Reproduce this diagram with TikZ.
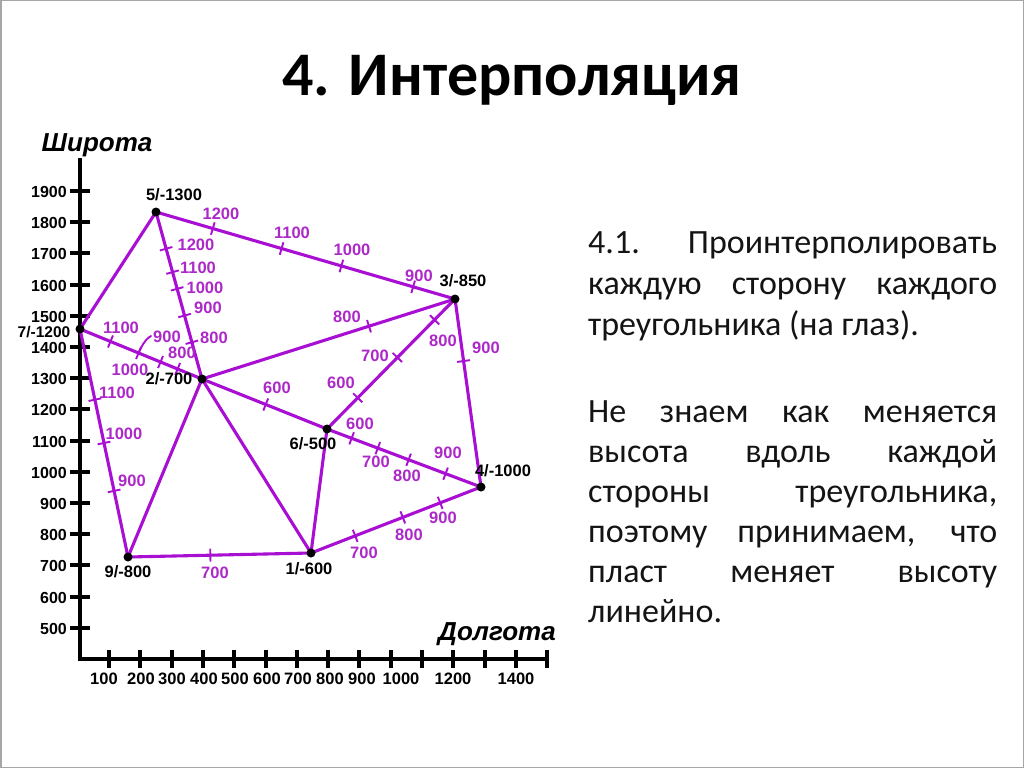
\documentclass[tikz,border=0pt]{standalone}
\usepackage{fontspec}
\setmainfont{Carlito}
\newfontfamily\arialf{Liberation Sans}
\definecolor{mag}{RGB}{168,15,210}
\definecolor{magt}{RGB}{172,40,200}
\definecolor{bodyc}{RGB}{20,20,20}
\begin{document}
\begin{tikzpicture}[x=1pt,y=-1pt,
  edge/.style={draw=mag, line width=3.1pt, line cap=round},
  tk/.style={sloped, draw=mag, line width=1.9pt, minimum height=13pt, minimum width=0pt, inner sep=0pt, outer sep=0pt, shape=rectangle},
  lbl/.style={text=magt, font=\arialf\bfseries\fontsize{16.5}{16.5}\selectfont, inner sep=0pt},
  vlbl/.style={text=black, font=\arialf\bfseries\fontsize{16.5}{16.5}\selectfont, inner sep=0pt},
  ylbl/.style={text=black, font=\arialf\bfseries\fontsize{16}{16}\selectfont, inner sep=0pt, anchor=east},
  xlbl/.style={text=black, font=\arialf\bfseries\fontsize{16.5}{16.5}\selectfont, inner sep=0pt},
  axl/.style={text=black, font=\arialf\bfseries\itshape\fontsize{26}{26}\selectfont, inner sep=0pt, anchor=base},
  axis/.style={draw=black, line width=4.5pt},
  axtick/.style={draw=black, line width=4pt},
  dot/.style={circle, fill=black, inner sep=0pt, minimum size=9pt},
  body/.style={text=bodyc, font=\fontsize{34}{41}\selectfont, inner sep=0pt, anchor=base west}]
\useasboundingbox (0,0) rectangle (1024,768);
\draw[gray!70, line width=1.5pt] (0.75,0.75) rectangle (1023.25,767.25);

% title
\node[font=\bfseries\fontsize{62}{62}\selectfont, anchor=base, inner sep=0pt] (title) at (512,95) {4. Интерполяция};

% body text
\node[body] (b1) at (588,253) {\makebox[409pt][s]{4.1. Проинтерполировать}};
\node[body] (b2) at (588,294) {\makebox[409pt][s]{каждую сторону каждого}};
\node[body] (b3) at (588,335) {треугольника (на глаз).};
\node[body] (b4) at (588,422) {\makebox[409pt][s]{Не знаем как меняется}};
\node[body] (b5) at (588,462) {\makebox[409pt][s]{высота вдоль каждой}};
\node[body] (b6) at (588,502) {\makebox[409pt][s]{стороны треугольника,}};
\node[body] (b7) at (588,542) {\makebox[409pt][s]{поэтому принимаем, что}};
\node[body] (b8) at (588,582) {\makebox[409pt][s]{пласт меняет высоту}};
\node[body] (b9) at (588,622) {линейно.};

% axes
\draw[axis] (80,158) -- (80,659) -- (548,659);
\foreach \v [count=\i from 0] in {1900,1800,1700,1600,1500,1400,1300,1200,1100,1000,900,800,700,600,500}{
  \draw[axtick] (70,191+\i*31.2) -- (90,191+\i*31.2);
  \node[ylbl] (yl\i) at (67,192+\i*31.2) {\v};
}
\foreach \k in {0,...,14}{
  \draw[axtick] (109+\k*31.3,650) -- (109+\k*31.3,668);
}
\foreach \v/\xx [count=\i] in {100/104,200/141,300/172,400/204,500/235,600/267,700/298,800/330,900/362,1000/401,1200/453,1400/516}{
  \node[xlbl] (xl\i) at (\xx,679) {\v};
}
\node[axl] (shir) at (97,151) {Широта};
\node[axl] (dolg) at (497,640) {Долгота};

% vertices
\coordinate (p5) at (156,212);
\coordinate (p3) at (455,299);
\coordinate (p7) at (80,329);
\coordinate (p2) at (202,379);
\coordinate (p6) at (327,429);
\coordinate (p4) at (481,487);
\coordinate (p9) at (128,557);
\coordinate (p1) at (311,553);

% edges with ticks
\draw[edge] (p5) -- (p3) node[tk,pos=.19](t53a){} node[tk,pos=.42](t53b){} node[tk,pos=.62](t53c){} node[tk,pos=.86](t53d){};
\draw[edge] (p5) -- (p7);
\draw[edge] (p5) -- (p2) node[tk,pos=.22](t52a){} node[tk,pos=.36](t52b){} node[tk,pos=.46](t52c){} node[tk,pos=.62](t52d){} node[tk,pos=.78](t52e){};
\draw[edge] (p7) -- (p2) node[tk,pos=.25](t72a){} node[tk,pos=.48](t72b){} node[tk,pos=.66](t72c){} node[tk,pos=.80](t72d){};
\draw[edge] (p7) -- (p9) node[tk,pos=.31](t79a){} node[tk,pos=.50](t79b){} node[tk,pos=.71](t79c){};
\draw[edge] (p2) -- (p3) node[tk,pos=.66](t23a){};
\draw[edge] (p2) -- (p6) node[tk,pos=.51](t26a){};
\draw[edge] (p6) -- (p3) node[tk,pos=.24](t63a){} node[tk,pos=.55](t63b){} node[tk,pos=.84](t63c){};
\draw[edge] (p6) -- (p4) node[tk,pos=.16](t64a){} node[tk,pos=.33](t64b){} node[tk,pos=.53](t64c){} node[tk,pos=.77](t64d){};
\draw[edge] (p3) -- (p4) node[tk,pos=.33](t34a){};
\draw[edge] (p2) -- (p9);
\draw[edge] (p2) -- (p1);
\draw[edge] (p6) -- (p1);
\draw[edge] (p9) -- (p1) node[tk,pos=.45](t91a){};
\draw[edge] (p1) -- (p4) node[tk,pos=.26](t14a){} node[tk,pos=.54](t14b){} node[tk,pos=.76](t14c){};
% leader for 900 on 7-2
\draw[draw=mag, line width=1.9pt, line cap=round] (t72b.center) .. controls (141,348) and (144,340) .. (151,336);

% dots
\foreach \p in {5,3,7,2,6,4,9,1}{ \node[dot] (d\p) at (p\p) {}; }

% vertex labels
\node[vlbl] (v5) at (174,195) {5/-1300};
\node[vlbl] (v3) at (463,281) {3/-850};
\node[vlbl, font=\arialf\bfseries\fontsize{15.5}{15.5}\selectfont] (v7) at (44,332) {7/-1200};
\node[vlbl] (v2) at (169,379) {2/-700};
\node[vlbl] (v6) at (313,444) {6/-500};
\node[vlbl] (v4) at (503,471) {4/-1000};
\node[vlbl] (v9) at (128,572) {9/-800};
\node[vlbl] (v1) at (309,569) {1/-600};

% contour labels
\node[lbl] (l53a) at (221,214) {1200};
\node[lbl] (l53b) at (292,233) {1100};
\node[lbl] (l53c) at (352,250) {1000};
\node[lbl] (l53d) at (419,276) {900};
\node[lbl] (l52a) at (196,245) {1200};
\node[lbl] (l52b) at (198,268) {1100};
\node[lbl] (l52c) at (205,288) {1000};
\node[lbl] (l52d) at (208,308) {900};
\node[lbl] (l52e) at (214,338) {800};
\node[lbl] (l72a) at (121,328) {1100};
\node[lbl] (l72b) at (130,370) {1000};
\node[lbl] (l72c) at (167,337) {900};
\node[lbl] (l72d) at (182,353) {800};
\node[lbl] (l79a) at (117,393) {1100};
\node[lbl] (l79b) at (124,434) {1000};
\node[lbl] (l79c) at (132,481) {900};
\node[lbl] (l91a) at (215,573) {700};
\node[lbl] (l14a) at (364,553) {700};
\node[lbl] (l14b) at (409,535) {800};
\node[lbl] (l14c) at (443,518) {900};
\node[lbl] (l64a) at (360,424) {600};
\node[lbl] (l64b) at (376,462) {700};
\node[lbl] (l64c) at (407,476) {800};
\node[lbl] (l64d) at (448,453) {900};
\node[lbl] (l26a) at (277,388) {600};
\node[lbl] (l63a) at (341,383) {600};
\node[lbl] (l63b) at (375,356) {700};
\node[lbl] (l63c) at (443,341) {800};
\node[lbl] (l23a) at (347,317) {800};
\node[lbl] (l34a) at (486,348) {900};
\end{tikzpicture}
\end{document}
